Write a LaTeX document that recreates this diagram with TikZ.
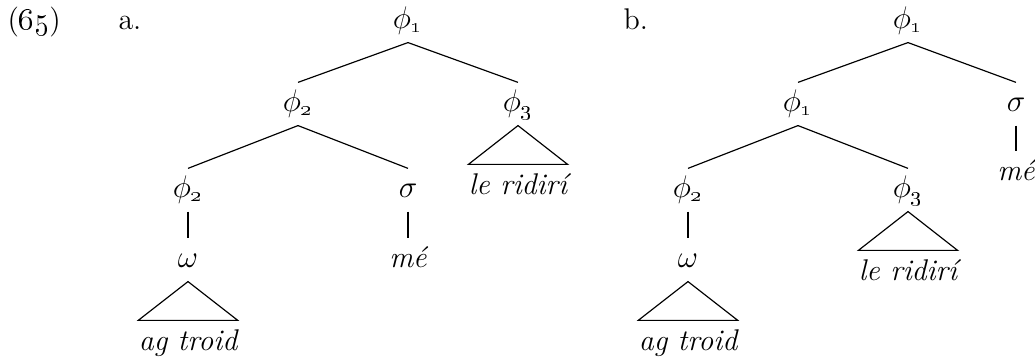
\documentclass[tikz,border=0pt]{standalone}
\usepackage{amsmath}
\usepackage{tikz}
\newcommand{\treefont}{\fontsize{11.5}{13}\selectfont}
\newcommand{\osn}[1]{\mbox{\fontsize{8}{9}\selectfont\oldstylenums{#1}}}

\begin{document}
\begin{tikzpicture}[x=0.0135cm, y=-0.0135cm,
  every node/.style={font=\treefont},
  lab/.style={anchor=base, inner sep=3pt, text height=7.8pt, text depth=2.4pt},
  word/.style={lab, font=\treefont\itshape},
  leaf/.style={anchor=base, inner xsep=0pt, inner ysep=3.2pt, text height=8pt, font=\treefont\itshape},
  tag/.style={anchor=base west, inner sep=0pt},
  branch/.style={line width=0.45pt}]
  \useasboundingbox (0,0) rectangle (1035,362);
  \node[tag] (ex) at (7,29) {(\oldstylenums{65})};
  \node[tag] (la) at (118,29) {a.};
  \node[tag] (lb) at (623,29) {b.};
  % tree a
  \node[lab] (a1) at (408,28) {$\phi_{\osn{1}}$};
  \node[lab] (a2) at (298,111) {$\phi_{\osn{2}}$};
  \node[lab] (a3) at (518,111) {$\phi_{\osn{3}}$};
  \node[lab] (a4) at (188,197) {$\phi_{\osn{2}}$};
  \node[lab] (a5) at (408,197) {$\sigma$};
  \node[lab] (a6) at (188,267) {$\omega$};
  \node[word] (a7) at (408,267) {mé};
  \node[leaf] (a8) at (188,350) {ag troid};
  \node[leaf] (a9) at (518,194) {le ridirí};
  \draw[branch] (a1.south) -- (a2.north);
  \draw[branch] (a1.south) -- (a3.north);
  \draw[branch] (a2.south) -- (a4.north);
  \draw[branch] (a2.south) -- (a5.north);
  \draw[branch] (a4.south) -- (a6.north);
  \draw[branch] (a5.south) -- (a7.north);
  \draw[branch] (a6.south) -- (a8.north west) -- (a8.north east) -- cycle;
  \draw[branch] (a3.south) -- (a9.north west) -- (a9.north east) -- cycle;
  % tree b
  \node[lab] (b1) at (908,28) {$\phi_{\osn{1}}$};
  \node[lab] (b2) at (798,111) {$\phi_{\osn{1}}$};
  \node[lab] (b3) at (1016,111) {$\sigma$};
  \node[word] (b4) at (1016,180) {mé};
  \node[lab] (b5) at (688,197) {$\phi_{\osn{2}}$};
  \node[lab] (b6) at (908,197) {$\phi_{\osn{3}}$};
  \node[lab] (b7) at (688,267) {$\omega$};
  \node[leaf] (b8) at (688,350) {ag troid};
  \node[leaf] (b9) at (908,280) {le ridirí};
  \draw[branch] (b1.south) -- (b2.north);
  \draw[branch] (b1.south) -- (b3.north);
  \draw[branch] (b3.south) -- (b4.north);
  \draw[branch] (b2.south) -- (b5.north);
  \draw[branch] (b2.south) -- (b6.north);
  \draw[branch] (b5.south) -- (b7.north);
  \draw[branch] (b7.south) -- (b8.north west) -- (b8.north east) -- cycle;
  \draw[branch] (b6.south) -- (b9.north west) -- (b9.north east) -- cycle;
\end{tikzpicture}
\end{document}
